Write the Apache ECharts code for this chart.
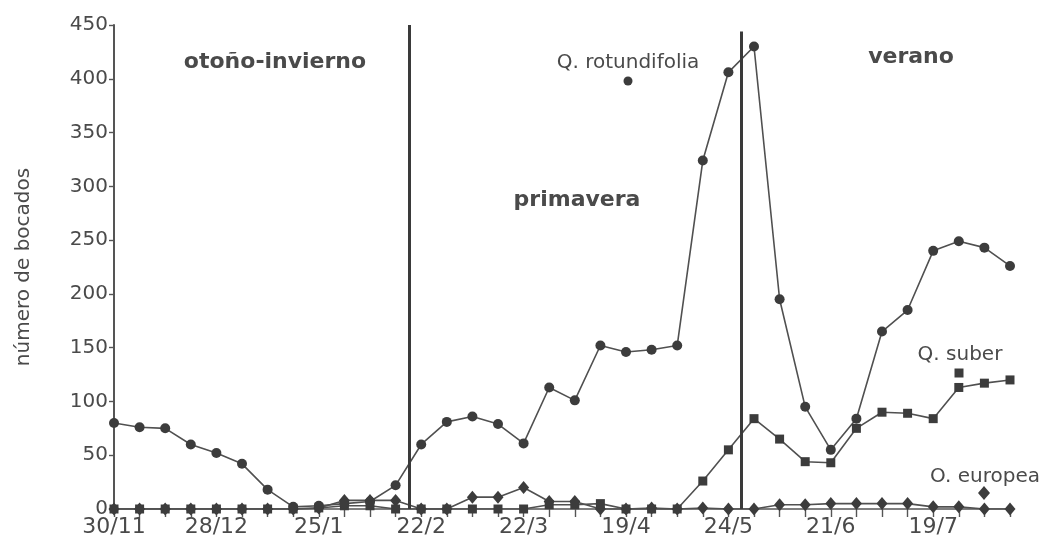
<!DOCTYPE html>
<html>
<head>
<meta charset="utf-8">
<script src="https://cdn.jsdelivr.net/npm/echarts@6/dist/echarts.min.js"></script>
<style>
  html, body { margin: 0; padding: 0; background: #fff; }
  #chart { width: 1043px; height: 544px; }
</style>
</head>
<body>
<div id="chart"></div>
<script>
// Weekly counts of bites per species; x is the sample index (one per week)
const tickLabels = ['30/11', '28/12', '25/1', '22/2', '22/3', '19/4', '24/5', '21/6', '19/7'];
const tickStep = 4;

const rotundifolia = [80, 76, 75, 60, 52, 42, 18, 2, 3, 5, 7, 22,
                      60, 81, 86, 79, 61, 113, 101, 152, 146, 148, 152, 324,
                      406, 430, 195, 95, 55, 84, 165, 185, 240, 249, 243, 226];
const suber = [0, 0, 0, 0, 0, 0, 0, 0, 1, 3, 3, 0,
               0, 0, 0, 0, 0, 4, 4, 5, 0, 0, 0, 26,
               55, 84, 65, 44, 43, 75, 90, 89, 84, 113, 117, 120];
const europea = [0, 0, 0, 0, 0, 0, 0, 0, 1, 8, 8, 8,
                 0, 0, 11, 11, 20, 7, 7, 0, 0, 1, 0, 1,
                 0, 0, 4, 4, 5, 5, 5, 5, 2, 2, 0, 0];

// Season boundaries (in sample-index units)
const seasonBreaks = [11.54, 24.5];
const seasonNames = ['otoño-invierno', 'primavera', 'verano'];

const ink = '#3c3c3c';
const textInk = '#4a4a4a';
const toPairs = arr => arr.map((v, i) => [i, v]);

const chart = echarts.init(document.getElementById('chart'));

const lineSeries = (name, data, symbol, size, extra) => Object.assign({
  name, type: 'line', data: toPairs(data),
  symbol, symbolSize: size, showSymbol: true,
  lineStyle: { color: '#505050', width: 1.6 },
  itemStyle: { color: ink, borderWidth: 0 },
  animation: false, z: 3
}, extra || {});

const label = (text, x, y, font) => ({
  type: 'text',
  style: { text, x, y, textAlign: 'center', textVerticalAlign: 'middle', align: 'center', verticalAlign: 'middle', font, fill: textInk }
});

chart.setOption({
  backgroundColor: '#fff',
  animation: false,
  grid: { left: 114, right: 33, top: 25, bottom: 35, containLabel: false },
  xAxis: {
    type: 'value', min: 0, max: 35, interval: 1,
    axisLine: { show: true, onZero: true, lineStyle: { color: '#555', width: 1.6 } },
    axisTick: { show: true, length: 8, lineStyle: { color: '#555', width: 1.4 } },
    splitLine: { show: false },
    axisLabel: {
      margin: 7, fontSize: 22, color: textInk, fontFamily: 'DejaVu Sans',
      showMinLabel: true, showMaxLabel: true,
      formatter: v => (v % tickStep === 0 && tickLabels[v / tickStep] !== undefined) ? tickLabels[v / tickStep] : ''
    }
  },
  yAxis: {
    type: 'value', min: 0, max: 450, interval: 50,
    name: 'número de bocados', nameLocation: 'middle', nameGap: 80,
    nameTextStyle: { fontSize: 20, color: textInk, fontFamily: 'DejaVu Sans' },
    axisLine: { show: true, lineStyle: { color: '#555', width: 2 } },
    axisTick: { show: true, length: 5, lineStyle: { color: '#555', width: 1.4 } },
    splitLine: { show: false },
    axisLabel: { margin: 6, fontSize: 20, color: textInk, fontFamily: 'DejaVu Sans' }
  },
  series: [
    lineSeries('O. europea', europea, 'diamond', [11, 13]),
    lineSeries('Q. suber', suber, 'rect', 9),
    lineSeries('Q. rotundifolia', rotundifolia, 'circle', 10, {
      markLine: {
        silent: true, symbol: ['none', 'none'], animation: false,
        label: { show: false },
        lineStyle: { color: '#3a3a3a', width: 3, type: 'solid' },
        data: seasonBreaks.map((x, k) => [
          { coord: [x, 0] },
          { coord: [x, k === 0 ? 450 : 444] }
        ])
      }
    })
  ],
  graphic: [
    // season titles
    label(seasonNames[0], 275, 62, 'bold 22px "DejaVu Sans"'),
    label(seasonNames[1], 577, 200, 'bold 22px "DejaVu Sans"'),
    label(seasonNames[2], 911, 57, 'bold 22px "DejaVu Sans"'),
    // species keys
    label('Q. rotundifolia', 628, 63, '20px "DejaVu Sans"'),
    { type: 'circle', shape: { cx: 628, cy: 81, r: 4.5 }, style: { fill: ink } },
    label('Q. suber', 960, 355, '20px "DejaVu Sans"'),
    { type: 'rect', shape: { x: 954.5, y: 368.5, width: 9, height: 9 }, style: { fill: ink } },
    label('O. europea', 985, 477, '20px "DejaVu Sans"'),
    { type: 'polygon', shape: { points: [[984, 486], [990, 493], [984, 500], [978, 493]] }, style: { fill: ink } }
  ]
});
</script>
</body>
</html>
